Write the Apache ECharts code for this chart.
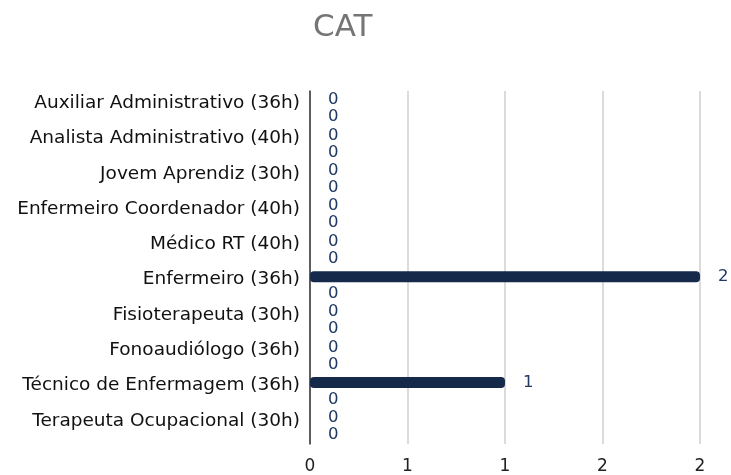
<!DOCTYPE html>
<html>
<head>
<meta charset="utf-8">
<style>
  html, body { margin: 0; padding: 0; background: #fff; }
  #chart { width: 731px; height: 475px; }
</style>
<script src="https://cdn.jsdelivr.net/npm/echarts@6/dist/echarts.min.js"></script>
</head>
<body>
<div id="chart"></div>
<script>
// categorias (de cima para baixo)
const categories = [
  'Auxiliar Administrativo (36h)',
  'Analista Administrativo (40h)',
  'Jovem Aprendiz (30h)',
  'Enfermeiro Coordenador (40h)',
  'Médico RT (40h)',
  'Enfermeiro (36h)',
  'Fisioterapeuta (30h)',
  'Fonoaudiólogo (36h)',
  'Técnico de Enfermagem (36h)',
  'Terapeuta Ocupacional (30h)'
]

// valores das séries
const catValues = [0, 0, 0, 0, 0, 2, 0, 0, 1, 0]
const otherValues = [0, 0, 0, 0, 0, 0, 0, 0, 0, 0]

// rótulos do eixo x (como aparecem na imagem)
const tickValues = [0, 0.5, 1, 1.5, 2]
const tickLabels = ['0', '1', '1', '2', '2']

const chart = echarts.init(document.getElementById('chart'))

const labelStyle = {
  show: true,
  position: 'right',
  distance: 18,
  color: '#1f3864',
  fontSize: 16.5,
  fontFamily: 'DejaVu Sans'
}

const option = {
  animation: false,
  title: {
    text: 'CAT',
    left: 308,
    top: 7,
    textStyle: {
      fontSize: 31,
      fontWeight: 'normal',
      color: '#757575',
      fontFamily: 'DejaVu Sans'
    }
  },
  grid: {
    left: 310,
    right: 31,
    top: 91,
    bottom: 31,
    containLabel: false
  },
  xAxis: {
    type: 'value',
    min: 0,
    max: 2,
    interval: 0.5,
    axisLine: { show: false },
    axisTick: { show: false },
    splitLine: { lineStyle: { color: '#cfcfcf', width: 1.5 } },
    axisLabel: {
      margin: 14,
      fontSize: 17,
      color: '#222',
      fontFamily: 'DejaVu Sans',
      formatter: (v) => {
        const i = tickValues.indexOf(v)
        return i >= 0 ? tickLabels[i] : ''
      }
    }
  },
  yAxis: {
    type: 'category',
    inverse: true,
    data: categories,
    axisLine: { show: true, lineStyle: { color: '#333', width: 1.5 } },
    axisTick: { show: false },
    splitLine: { show: false },
    axisLabel: {
      margin: 10,
      fontSize: 18.5,
      color: '#111',
      fontFamily: 'DejaVu Sans',
      verticalAlign: 'bottom',
      lineHeight: 11
    }
  },
  series: [
    {
      name: 'CAT',
      type: 'bar',
      data: catValues,
      barWidth: 11,
      barGap: '55%',
      itemStyle: { color: '#152a4b', borderRadius: 4 },
      label: labelStyle
    },
    {
      name: 'Outros',
      type: 'bar',
      data: otherValues,
      barWidth: 11,
      barGap: '55%',
      itemStyle: { color: '#152a4b', borderRadius: 4 },
      label: labelStyle
    }
  ]
}

chart.setOption(option)
</script>
</body>
</html>
